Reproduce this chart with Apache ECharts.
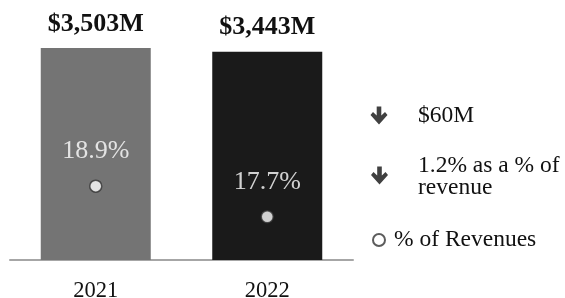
<!DOCTYPE html>
<html>
<head>
<meta charset="utf-8">
<script src="https://cdn.jsdelivr.net/npm/echarts@6/dist/echarts.min.js"></script>
<style>
  html, body { margin: 0; padding: 0; background: #fff; }
  #chart { width: 565px; height: 298px; }
</style>
</head>
<body>
<div id="chart"></div>
<script>
var years = ['2021', '2022'];
var expense = [3503, 3443];          // $M
var pctRevenue = [18.9, 17.7];       // % of revenues
var barColors = ['#747474', '#1a1a1a'];
var changeNotes = ['$60M', '1.2% as a % of\nrevenue'];

var serif = '"Liberation Serif", "Times New Roman", serif';

// down arrow shape, drawn relative to its centre
function arrow(cx, cy) {
	var pts = [[-2.3, -9], [2.3, -9], [2.3, 0], [6, -3.5], [8.5, -0.5], [0, 9], [-8.5, -0.5], [-6, -3.5], [-2.3, 0]];
	return {
		type: 'polygon',
		x: cx, y: cy,
		shape: { points: pts },
		style: { fill: '#404040' },
		silent: true
	};
}

var myChart = echarts.init(document.getElementById('chart'));
var option = {
	animation: false,
	textStyle: { fontFamily: serif },
	grid: { left: 10, right: 212, top: 18, bottom: 38, outerBoundsMode: 'none', containLabel: false },
	legend: {
		left: 367,
		top: 223,
		itemWidth: 20,
		itemHeight: 12,
		data: ['% of Revenues'],
		textStyle: { fontFamily: serif, fontSize: 23.5, color: '#111' }
	},
	xAxis: {
		type: 'category',
		data: years,
		axisLine: { lineStyle: { color: '#a6a6a6', width: 2 } },
		axisTick: { show: false },
		axisLabel: { fontFamily: serif, fontSize: 22.5, color: '#111', margin: 20 }
	},
	yAxis: [
		{ type: 'value', min: 0, max: 4000, show: false },
		{ type: 'value', min: 16, max: 25.5, show: false }
	],
	series: [
		{
			name: 'Expense',
			type: 'bar',
			barWidth: 110,
			data: expense.map(function(v, i) {
				return { value: v, itemStyle: { color: barColors[i] } };
			}),
			label: {
				show: true,
				position: 'top',
				distance: 11,
				fontFamily: serif,
				fontSize: 26,
				fontWeight: 'bold',
				color: '#111',
				formatter: function(p) {
					return '$' + p.value.toLocaleString('en-US') + 'M';
				}
			}
		},
		{
			name: '% of Revenues',
			type: 'scatter',
			yAxisIndex: 1,
			symbol: 'circle',
			symbolSize: 12,
			itemStyle: { color: '#fff', borderColor: '#333', borderWidth: 1.5 },
			data: pctRevenue,
			label: {
				show: true,
				position: 'inside',
				offset: [0, -35],
				fontFamily: serif,
				fontSize: 26,
				color: '#fff',
				formatter: '{c}%'
			}
		}
	],
	graphic: [
		arrow(379, 115.5),
		arrow(379.5, 175.5),
		{
			type: 'text', left: 418, top: 104,
			style: { text: changeNotes[0], font: '23.5px ' + serif, fill: '#111' }
		},
		{
			type: 'text', left: 418, top: 154,
			style: { text: changeNotes[1], font: '23.5px ' + serif, fill: '#111', lineHeight: 21.5 }
		}
	]
};
myChart.setOption(option);
</script>
</body>
</html>
